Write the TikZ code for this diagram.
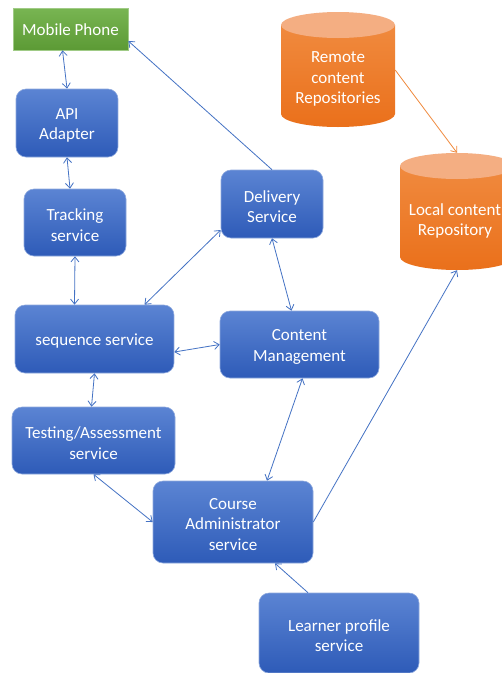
\documentclass[tikz,border=0pt]{standalone}
\usepackage{fontspec}
\setmainfont{Carlito}
\usetikzlibrary{arrows.meta}
\definecolor{bluetop}{HTML}{5B84D3}
\definecolor{bluebot}{HTML}{2E5BB8}
\definecolor{blueedge}{HTML}{8EA9DE}
\definecolor{greentop}{HTML}{78B552}
\definecolor{greenbot}{HTML}{5C9A35}
\definecolor{orangetop}{HTML}{F08A3E}
\definecolor{orangebot}{HTML}{EA701B}
\definecolor{orangelid}{HTML}{F4AE82}
\definecolor{linkblue}{HTML}{4472C4}
\definecolor{linkorange}{HTML}{F08A3E}
\tikzset{
  boxtext/.style={text=white, align=center, font=\fontsize{17}{20.5}\selectfont, inner sep=0pt},
  svc/.style={draw=blueedge, line width=0.6pt, rounded corners=10pt,
    top color=bluetop, bottom color=bluebot,
    label={[boxtext, yshift=-2.5pt]center:#1}},
  phone/.style={draw=greentop!70!white, line width=0.6pt,
    top color=greentop, bottom color=greenbot,
    label={[boxtext, yshift=-1pt]center:#1}},
  cyltext/.style={minimum width=114pt, minimum height=117pt, inner sep=0pt},
  link/.style={draw=linkblue, line width=0.8pt, {Straight Barb[length=5pt,width=8pt]}-{Straight Barb[length=5pt,width=8pt]}},
  linkto/.style={draw=linkblue, line width=0.8pt, -{Straight Barb[length=5pt,width=8pt]}},
  linkor/.style={draw=linkorange, line width=0.8pt, -{Straight Barb[length=5pt,width=8pt]}}
}
\begin{document}
\begin{tikzpicture}[x=1pt, y=-1pt]
\useasboundingbox (0,0) rectangle (502,673);
\fill[white] (0,0) rectangle (502,673);

% cylinders
\shade[top color=orangetop, bottom color=orangebot]
  (281,25) -- (281,114) arc[start angle=180, end angle=0, x radius=57, y radius=13] -- (395,25) -- cycle;
\fill[orangelid] (338,25) ellipse[x radius=57, y radius=13];
\shade[top color=orangetop, bottom color=orangebot]
  (400,166) -- (400,257) arc[start angle=180, end angle=0, x radius=57, y radius=13] -- (514,166) -- cycle;
\fill[orangelid] (457,166) ellipse[x radius=57, y radius=13];

\node[cyltext] (remote) at (338,70) {};
\node[boxtext] (remotet) at (338,79) {Remote\\content\\Repositories};
\node[cyltext] (local) at (457,211.5) {};
\node[boxtext] (localt) at (455,221) {Local content\\Repository};

% boxes
\node[phone={Mobile Phone}, minimum width=115pt, minimum height=42pt] (mobile) at (70.5,29) {};
\node[svc={API\\Adapter}, minimum width=102pt, minimum height=68pt] (api) at (67,123) {};
\node[svc={Tracking\\service}, minimum width=102pt, minimum height=67pt] (tracking) at (75,222.5) {};
\node[svc={Delivery\\Service}, minimum width=102pt, minimum height=68pt] (delivery) at (272,204) {};
\node[svc={sequence service}, minimum width=159pt, minimum height=68pt] (sequence) at (94.5,339) {};
\node[svc={Content\\Management}, minimum width=159pt, minimum height=67pt] (content) at (299.5,344.5) {};
\node[svc={Testing/Assessment\\service}, minimum width=163pt, minimum height=67pt] (testing) at (93.5,440.5) {};
\node[svc={Course\\Administrator\\service}, minimum width=160pt, minimum height=82pt] (course) at (233,522) {};
\node[svc={Learner profile\\service}, minimum width=160pt, minimum height=80pt] (learner) at (339,633) {};

% connectors
\draw[link] ([xshift=-8pt]mobile.south) -- (api.north);
\draw[linkto] (delivery.north) -- ([yshift=-12pt]mobile.east);
\draw[link] (api.south) -- ([xshift=-5pt]tracking.north);
\draw[link] (tracking.south) -- ([xshift=-20pt]sequence.north);
\draw[link] ([yshift=-26pt]delivery.west) -- ([xshift=50pt]sequence.north);
\draw[link] (delivery.south) -- ([xshift=-8pt]content.north);
\draw[link] ([yshift=-13pt]sequence.east) -- (content.west);
\draw[link] (sequence.south) -- ([xshift=-2pt]testing.north);
\draw[link] (testing.south) -- (course.west);
\draw[link] ([xshift=3pt]content.south) -- ([xshift=34pt]course.north);
\draw[linkto] (course.east) -- (local.south);
\draw[linkto] ([xshift=-31pt]learner.north) -- ([xshift=42pt]course.south);
\draw[linkor] (remote.east) -- (local.north);
\end{tikzpicture}
\end{document}
